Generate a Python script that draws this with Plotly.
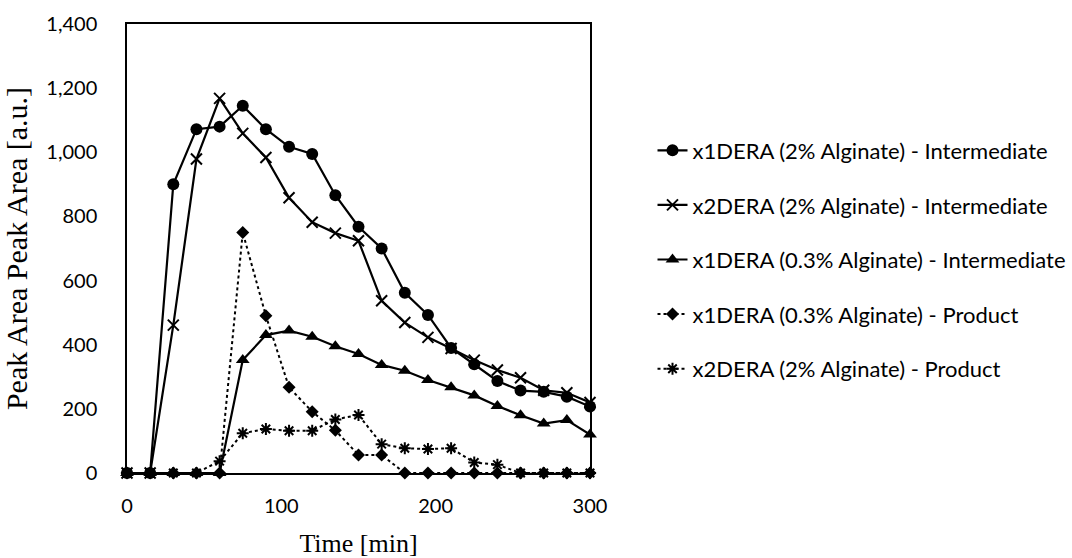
import plotly.graph_objects as go

time_min = [0, 15, 30, 45, 60, 75, 90, 105, 120, 135, 150, 165, 180, 195, 210, 225, 240, 255, 270, 285, 300]

x1_2pct_intermediate = [0, 0, 900, 1072, 1080, 1145, 1072, 1017, 995, 866, 768, 700, 562, 493, 390, 339, 287, 257, 253, 238, 207]
x2_2pct_intermediate = [0, 0, 461, 979, 1168, 1059, 984, 858, 782, 748, 724, 537, 469, 423, 388, 352, 321, 297, 258, 250, 220]
x1_03pct_intermediate = [0, 0, 0, 0, 0, 352, 430, 444, 425, 395, 371, 337, 319, 290, 267, 242, 209, 180, 154, 165, 120]
x1_03pct_product = [0, 0, 0, 0, 0, 750, 490, 267, 191, 133, 56, 56, 0, 0, 0, 0, 0, 0, 0, 0, 0]
x2_2pct_product = [0, 0, 0, 0, 37, 124, 137, 132, 132, 167, 181, 90, 77, 75, 77, 33, 26, 0, 0, 0, 0]

series_names = [
    "x1DERA (2% Alginate) - Intermediate",
    "x2DERA (2% Alginate) - Intermediate",
    "x1DERA (0.3% Alginate) - Intermediate",
    "x1DERA (0.3% Alginate) - Product",
    "x2DERA (2% Alginate) - Product",
]

y_ticks = [0, 200, 400, 600, 800, 1000, 1200, 1400]
x_ticks = [0, 100, 200, 300]

TICK_FONT = dict(family="Lato, 'Open Sans', sans-serif", size=20, color="black")
LEGEND_FONT = dict(family="Lato, 'Open Sans', sans-serif", size=22, color="black")
TITLE_FONT = dict(family="'Liberation Serif', 'Times New Roman', serif", size=26, color="black")

fig = go.Figure()

styles = [
    dict(series=x1_2pct_intermediate, dash="solid", symbol="circle", size=12, mline=0),
    dict(series=x2_2pct_intermediate, dash="solid", symbol="x-thin-open", size=11, mline=2),
    dict(series=x1_03pct_intermediate, dash="solid", symbol="triangle-up", size=12, mline=0),
    dict(series=x1_03pct_product, dash="dot", symbol="diamond", size=10, mline=0),
    dict(series=x2_2pct_product, dash="dot", symbol="asterisk-open", size=10, mline=2),
]

for i, (name, st) in enumerate(zip(series_names, styles)):
    fig.add_trace(go.Scatter(
        x=time_min,
        y=st["series"],
        name=name,
        mode="lines+markers",
        legendgroup=f"g{i}",
        line=dict(color="black", width=2.2 if st["dash"] == "solid" else 2, dash=st["dash"]),
        marker=dict(symbol=st["symbol"], size=st["size"], color="black",
                    line=dict(color="black", width=st["mline"])),
        cliponaxis=False,
    ))

fig.update_layout(
    width=1072,
    height=558,
    margin=dict(l=127, r=482, t=24, b=85, autoexpand=False),
    paper_bgcolor="white",
    plot_bgcolor="white",
    showlegend=True,
    legend=dict(
        x=1.135, y=0.765, xanchor="left", yanchor="top",
        font=LEGEND_FONT,
        tracegroupgap=23,
        bgcolor="rgba(0,0,0,0)",
    ),
)

fig.update_xaxes(
    range=[0, 300],
    tickvals=x_ticks,
    ticktext=[str(v) for v in x_ticks],
    showgrid=False,
    zeroline=False,
    showline=True,
    linecolor="black",
    linewidth=1.5,
    mirror=True,
    ticks="",
    ticklabelstandoff=14,
    tickfont=TICK_FONT,
    title=dict(text="Time [min]", font=TITLE_FONT, standoff=20),
)

fig.update_yaxes(
    range=[0, 1400],
    tickvals=y_ticks,
    tickformat=",",
    showgrid=False,
    zeroline=False,
    showline=True,
    linecolor="black",
    linewidth=1.5,
    mirror=True,
    ticks="",
    ticklabelstandoff=24,
    tickfont=TICK_FONT,
    title=dict(text="Peak Area Peak Area [a.u.]", font=dict(TITLE_FONT, size=30), standoff=12),
)

fig.write_html("out.html")
